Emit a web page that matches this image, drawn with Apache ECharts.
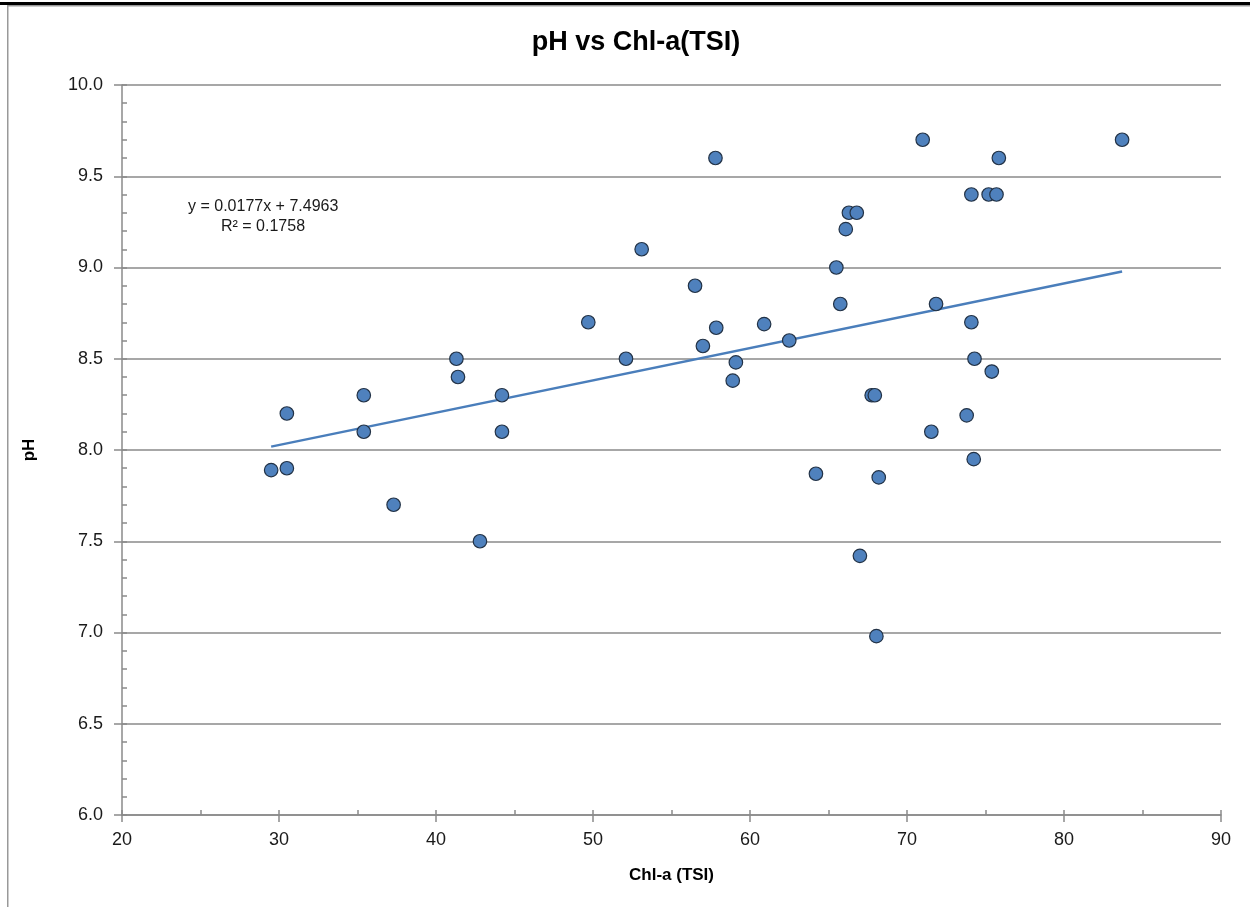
<!DOCTYPE html>
<html>
<head>
<meta charset="utf-8">
<script src="https://cdn.jsdelivr.net/npm/echarts@6/dist/echarts.min.js"></script>
<style>
html,body{margin:0;padding:0;background:#fff;}
#chart{width:1250px;height:907px;}
</style>
</head>
<body>
<div id="chart"></div>
<script>
// Chl-a (TSI) values
var chlTSI = [29.5, 30.5, 30.5, 35.4, 35.4, 37.3, 41.3, 41.4, 42.8, 44.2, 44.2, 49.7, 52.1, 53.1, 56.5, 57.0, 57.8, 57.85, 58.9, 59.1, 60.9, 62.5, 64.2, 65.5, 65.75, 66.1, 66.3, 66.8, 67.0, 67.75, 67.95, 68.05, 68.2, 71.0, 71.55, 71.85, 73.8, 74.1, 74.1, 74.3, 74.25, 75.2, 75.4, 75.7, 75.85, 83.7];
// pH values
var pH = [7.89, 8.20, 7.90, 8.30, 8.10, 7.70, 8.50, 8.40, 7.50, 8.30, 8.10, 8.70, 8.50, 9.10, 8.90, 8.57, 9.60, 8.67, 8.38, 8.48, 8.69, 8.60, 7.87, 9.00, 8.80, 9.21, 9.30, 9.30, 7.42, 8.30, 8.30, 6.98, 7.85, 9.70, 8.10, 8.80, 8.19, 9.40, 8.70, 8.50, 7.95, 9.40, 8.43, 9.40, 9.60, 9.70];
// Trendline coefficients (as printed on the chart)
var slope = 0.0177;
var intercept = 7.4963;
var rSquared = 0.1758;
var xTicks = [20, 30, 40, 50, 60, 70, 80, 90];
var yTicks = [6.0, 6.5, 7.0, 7.5, 8.0, 8.5, 9.0, 9.5, 10.0];

var points = chlTSI.map(function (x, i) { return [x, pH[i]]; });
var xmin = Math.min.apply(null, chlTSI), xmax = Math.max.apply(null, chlTSI);
var trend = [[xmin, slope * xmin + intercept], [xmax, slope * xmax + intercept]];

var gray = '#8a8a8a';
var font = 'Liberation Sans, Arial, sans-serif';
var chart = echarts.init(document.getElementById('chart'), null, {renderer: 'canvas'});
chart.setOption({
  animation: false,
  backgroundColor: '#fff',
  title: {
    text: 'pH vs Chl-a(TSI)',
    left: 631, top: 24, textAlign: 'center',
    textStyle: {fontFamily: font, fontWeight: 'bold', fontSize: 27, color: '#000'}
  },
  grid: {left: 122, right: 29, top: 85, bottom: 92, containLabel: false},
  xAxis: [{
    type: 'value', min: xTicks[0], max: xTicks[xTicks.length - 1], interval: 10,
    name: 'Chl-a (TSI)', nameLocation: 'middle', nameGap: 52,
    nameTextStyle: {fontFamily: font, fontWeight: 'bold', fontSize: 17, color: '#000'},
    axisLine: {show: true, onZero: false, lineStyle: {color: gray, width: 1.5}},
    axisTick: {show: true, length: 7, lineStyle: {color: gray, width: 1.5}},
    axisLabel: {fontFamily: font, fontSize: 18, color: '#1a1a1a', margin: 16},
    splitLine: {show: false}
  }, {
    type: 'value', min: xTicks[0], max: xTicks[xTicks.length - 1], interval: 5,
    position: 'bottom',
    axisLine: {show: false},
    axisTick: {show: true, inside: true, length: 5, lineStyle: {color: gray, width: 1.5}},
    axisLabel: {show: false},
    splitLine: {show: false}
  }],
  yAxis: [{
    type: 'value', min: yTicks[0], max: yTicks[yTicks.length - 1], interval: 0.5,
    name: 'pH', nameLocation: 'middle', nameGap: 84, nameRotate: 90,
    nameTextStyle: {fontFamily: font, fontWeight: 'bold', fontSize: 17, color: '#000'},
    axisLine: {show: true, onZero: false, lineStyle: {color: gray, width: 1.5}},
    axisTick: {show: true, length: 8, lineStyle: {color: gray, width: 1.5}},
    axisLabel: {fontFamily: font, fontSize: 18, color: '#1a1a1a', margin: 19,
      formatter: function (v) { return v.toFixed(1); }},
    splitLine: {show: true, lineStyle: {color: gray, width: 1.5}}
  }, {
    type: 'value', min: yTicks[0], max: yTicks[yTicks.length - 1], interval: 0.1,
    position: 'left',
    axisLine: {show: false},
    axisTick: {show: true, inside: true, length: 5, lineStyle: {color: gray, width: 1.5}},
    axisLabel: {show: false},
    splitLine: {show: false}
  }],
  series: [{
    type: 'line', data: trend, xAxisIndex: 0, yAxisIndex: 0,
    showSymbol: false, symbol: 'none', silent: true,
    lineStyle: {color: '#4A7EBB', width: 2.5}, z: 2
  }, {
    type: 'scatter', data: points, xAxisIndex: 0, yAxisIndex: 0,
    symbol: 'circle', symbolSize: 13.5,
    itemStyle: {color: '#4F81BD', borderColor: '#223246', borderWidth: 1.2, opacity: 1},
    z: 3
  }],
  graphic: [
    {type: 'rect', left: 0, top: 2, shape: {width: 1250, height: 3}, style: {fill: '#000'}, silent: true},
    {type: 'rect', left: 7, top: 5, shape: {width: 1243, height: 1.5}, style: {fill: '#999'}, silent: true},
    {type: 'rect', left: 7, top: 5, shape: {width: 1.5, height: 902}, style: {fill: '#999'}, silent: true},
    {type: 'text', left: 188, top: 199, style: {
      text: 'y = ' + slope.toFixed(4) + 'x + ' + intercept.toFixed(4),
      font: '16px ' + font, fill: '#1a1a1a'}},
    {type: 'text', left: 221, top: 219, style: {
      text: 'R\u00B2 = ' + rSquared.toFixed(4),
      font: '16px ' + font, fill: '#1a1a1a'}}
  ]
});
</script>
</body>
</html>
